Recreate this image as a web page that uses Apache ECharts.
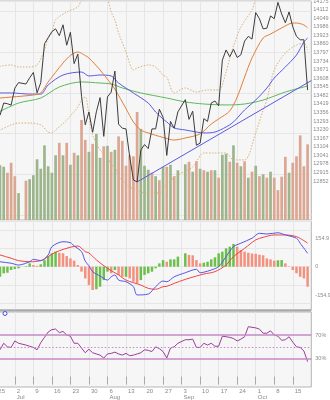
<!DOCTYPE html>
<html>
<head>
<meta charset="utf-8">
<script src="https://cdn.jsdelivr.net/npm/echarts@6/dist/echarts.min.js"></script>
<style>
  html, body { margin: 0; padding: 0; background: #ffffff; }
  #chart { width: 330px; height: 400px; }
</style>
</head>
<body>
<div id="chart"></div>
<script>
// Trading calendar (weekdays, holidays kept as empty slots; last slot is padding)
const days = [
  '6/25','6/26','6/27','6/28','6/29',
  '7/2','7/3','7/4','7/5','7/6',
  '7/9','7/10','7/11','7/12','7/13',
  '7/16','7/17','7/18','7/19','7/20',
  '7/23','7/24','7/25','7/26','7/27',
  '7/30','7/31','8/1','8/2','8/3',
  '8/6','8/7','8/8','8/9','8/10',
  '8/13','8/14','8/15','8/16','8/17',
  '8/20','8/21','8/22','8/23','8/24',
  '8/27','8/28','8/29','8/30','8/31',
  '9/3','9/4','9/5','9/6','9/7',
  '9/10','9/11','9/12','9/13','9/14',
  '9/17','9/18','9/19','9/20','9/21',
  '9/24','9/25','9/26','9/27','9/28',
  '10/1','10/2','10/3','10/4','10/5',
  '10/8','10/9','10/10','10/11','10/12',
  '10/15','10/16','10/17','10/18','10/19',
  '10/22'
];

// Daily close
const closes = [
  13350,13335,13425,13420,13410,
  13535,13575,null,13565,13610,
  13650,13500,13575,13860,13905,
  13950,13970,13920,14000,13850,
  13945,13715,13785,13475,13265,
  13360,13210,13360,13465,13180,
  13470,13505,13660,13270,13240,
  13235,13030,12860,12845,13080,
  13120,13090,13235,13235,13380,
  13320,13040,13290,13240,13360,
  null,13450,13305,13365,13115,
  13130,13310,13290,13425,13440,
  13405,13740,13815,13765,13820,
  13760,13780,13880,13915,13895,
  14090,14045,13970,13975,14065,
  14045,14165,14080,14015,14095,
  13985,13915,13890,13890,13520,
  null
];

// Daily volume and its up/down tag
const volumes = [
  110,110,107,95,115,
  88,54,null,79,82,
  90,122,103,150,108,
  95,130,155,130,155,
  111,135,130,201,161,
  137,153,173,125,148,
  149,137,141,168,159,
  109,130,128,217,183,
  109,101,95,88,80,
  107,107,111,88,100,
  null,112,117,97,118,
  103,100,97,100,100,
  85,131,133,117,150,
  115,108,118,85,97,
  109,88,92,85,97,
  85,60,87,127,95,
  115,128,170,108,152,
  null
];
const volDir = [
  'u','u','u','d','d',
  'd','u',null,'d','u',
  'u','u','u','u','u',
  'u','u','d','u','d',
  'u','d','u','d','d',
  'u','d','u','u','d',
  'u','d','u','d','d',
  'd','d','d','d','u',
  'u','u','d','u','d',
  'u','d','u','d','u',
  null,'u','d','u','d',
  'u','d','u','d','u',
  'd','u','u','d','u',
  'd','u','d','u','d',
  'u','d','u','d','u',
  'd','d','d','d','u',
  'd','d','d','d','d',
  null
];

// Overlays on the price panel: [day, value]
const maShort = [
  ['6/25',13460],['6/26',13462],['6/29',13469],['7/9',13484],['7/11',13499],['7/13',13580],
  ['7/19',13719],['7/23',13775],['7/25',13800],['7/27',13774],['7/30',13756],['8/2',13668],
  ['8/7',13565],['8/8',13528],['8/13',13384],['8/15',13286],['8/17',13227],['8/21',13205],
  ['8/27',13172],['8/30',13153],['9/4',13168],['9/10',13198],['9/13',13271],['9/17',13308],
  ['9/20',13367],['9/24',13469],['9/26',13616],['9/28',13756],['10/3',13903],['10/5',13932],
  ['10/10',13977],['10/15',14013],['10/16',14013],['10/18',13999],['10/19',13977]
];
const maMid = [
  ['6/25',13499],['6/29',13499],['7/6',13491],['7/11',13491],['7/13',13558],['7/19',13631],
  ['7/26',13653],['7/30',13624],['8/2',13631],['8/7',13624],['8/9',13572],['8/15',13499],
  ['8/21',13425],['8/23',13359],['8/27',13308],['8/28',13286],['8/30',13242],['9/4',13227],
  ['9/7',13212],['9/11',13205],['9/14',13212],['9/19',13249],['9/21',13286],['9/26',13374],
  ['10/1',13447],['10/4',13535],['10/8',13609],['10/11',13690],['10/16',13778],['10/18',13874],
  ['10/19',13903]
];
const maLong = [
  ['6/25',13350],['7/3',13425],['7/11',13462],['7/18',13543],['7/26',13580],['8/2',13572],
  ['8/7',13565],['8/10',13536],['8/17',13499],['8/28',13462],['9/4',13433],['9/11',13418],
  ['9/19',13411],['9/26',13418],['10/3',13447],['10/11',13506],['10/18',13543],['10/19',13550]
];
const bandUpper = [
  ['6/25',13690],['6/29',13705],['7/3',13690],['7/6',13690],['7/10',13705],['7/12',13815],
  ['7/13',13903],['7/16',13940],['7/17',14035],['7/20',14094],['7/25',14131],['7/26',14180],
  ['7/31',14250],['8/6',14180],['8/7',14094],['8/8',14035],['8/9',13940],['8/13',13800],
  ['8/15',13668],['8/16',13683],['8/21',13705],['8/23',13690],['8/27',13630],['8/28',13616],
  ['8/30',13499],['9/4',13536],['9/7',13506],['9/12',13521],['9/17',13521],['9/19',13653],
  ['9/20',13756],['9/21',13844],['9/25',13984],['9/28',14109],['10/1',14180],['10/3',14200],
  ['10/8',14215],['10/12',14205],['10/17',14190],['10/19',14185]
];
const bandLower = [
  ['6/25',13215],['6/26',13227],['6/29',13264],['7/3',13278],['7/6',13278],['7/11',13264],
  ['7/13',13212],['7/16',13205],['7/17',13227],['7/20',13300],['7/25',13396],['7/26',13447],
  ['7/27',13470],['7/30',13337],['7/31',13190],['8/2',13080],['8/6',13029],['8/7',12970],
  ['8/8',12955],['8/9',12882],['8/10',12860],['8/14',12808],['8/17',12771],['8/21',12764],
  ['8/24',12764],['8/27',12793],['8/28',12830],['8/31',12896],['9/6',12955],['9/11',13058],
  ['9/14',13058],['9/19',13058],['9/21',13007],['9/26',13007],['10/1',13205],['10/3',13374],
  ['10/4',13447],['10/8',13668],['10/11',13793],['10/16',13851],['10/18',13866],['10/19',13815]
];
const trendLine = [['8/16',12845],['10/22',13590]];

// MACD panel
const macdLine = [
  ['6/25',35],['6/26',27],['6/29',19],['7/3',9],['7/6',27],['7/9',40],['7/11',33],['7/13',64],
  ['7/16',109],['7/19',136],['7/23',131],['7/24',113],['7/26',82],['7/27',30],['7/30',5],
  ['7/31',-27],['8/2',-51],['8/6',-73],['8/7',-55],['8/8',-45],['8/9',-73],['8/13',-82],
  ['8/15',-109],['8/16',-154],['8/21',-149],['8/23',-109],['8/27',-78],['8/28',-82],['8/30',-55],
  ['9/4',-33],['9/7',-14],['9/10',-33],['9/11',-30],['9/13',-18],['9/17',0],['9/19',55],
  ['9/21',109],['9/25',128],['9/28',155],['10/2',182],['10/4',178],['10/9',185],['10/11',173],
  ['10/16',155],['10/17',128],['10/19',73]
];
const signalLine = [
  ['6/25',70],['6/26',64],['6/29',46],['7/3',33],['7/6',27],['7/11',33],['7/13',55],['7/16',68],
  ['7/18',87],['7/23',106],['7/25',113],['7/27',82],['7/30',75],['8/1',37],['8/6',-9],
  ['8/9',-45],['8/13',-73],['8/17',-100],['8/21',-118],['8/23',-123],['8/27',-109],['8/28',-107],
  ['8/30',-91],['9/4',-69],['9/7',-51],['9/11',-40],['9/14',-27],['9/19',9],['9/21',55],
  ['9/26',100],['10/1',146],['10/3',160],['10/8',173],['10/11',173],['10/16',164],['10/18',142],
  ['10/19',128]
];
const macdHist = [
  -60,-55,-36,-33,-18,
  -13,-9,null,3,18,
  9,5,13,36,58,
  73,82,76,73,58,
  45,33,9,-27,-64,
  -100,-127,-123,-109,-73,
  -27,-36,-18,-45,-55,
  -55,-64,-82,-91,-73,
  -45,-36,-27,-9,18,
  36,27,40,40,55,
  null,73,64,62,36,
  18,22,27,40,51,
  73,82,100,109,124,
  109,91,82,76,72,
  70,65,62,45,40,
  33,35,36,18,2,
  -18,-36,-55,-64,-109,
  null
];

// RSI panel
const rsi = [
  44,45,56,50,49,
  60,56,null,53,51,
  49,45,57,66,75,
  79,80,74,76,70,
  68,56,56,48,40,
  46,40,38,36,31,
  38,39,41,38,36,
  39,35,36,38,40,
  45,44,42,50,47,
  42,31,48,50,56,
  null,62,62,63,49,
  49,56,53,56,51,
  51,68,67,66,64,
  60,63,67,84,83,
  82,80,73,73,77,
  70,68,61,62,67,
  58,50,49,43,25,
  null
];

// Axis tick labels
const priceTicks = [12852,12915,12978,13041,13104,13167,13230,13293,13356,13419,13482,
  13545,13608,13671,13734,13797,13860,13923,13986,14049,14112,14175];
const macdTicks = [-154.9, 0, 154.9];
const rsiTicks = [30, 70];
const monthNames = { '6': 'Jun', '7': 'Jul', '8': 'Aug', '9': 'Sep', '10': 'Oct' };

const FONT = '"Liberation Sans", Arial, sans-serif';
const LABEL = '#8a8a8a';
const GRIDLINE = '#e6e6e6';
const VOL_UP = '#9db58c', VOL_DN = '#dba793';
const HIST_UP = '#6cbf4a', HIST_DN = '#f2917f';

const isMonday = (i) => i % 5 === 0 && i < days.length - 1;

function xAxis(gridIndex, labels) {
  return {
    type: 'category', gridIndex, data: days, boundaryGap: false,
    axisLine: { show: false },
    axisTick: { show: labels, interval: isMonday, length: 8, lineStyle: { color: '#aaaaaa' } },
    axisLabel: labels ? {
      interval: isMonday, align: 'left', padding: [0, 0, 0, 2], margin: 1,
      fontSize: 6, lineHeight: 6.5, color: LABEL, fontFamily: FONT,
      hideOverlap: false,
      formatter: (v) => {
        const [m, d] = v.split('/');
        return Number(d) <= 7 ? d + '\n' + monthNames[m] : d;
      }
    } : { show: false },
    splitLine: { show: true, interval: isMonday, lineStyle: { color: GRIDLINE, width: 1 } }
  };
}

const gridBase = { left: -3.7, right: 18.7, show: true, backgroundColor: '#f6f6f6',
  borderColor: '#b5b5b5', borderWidth: 1, containLabel: false, outerBoundsMode: 'none' };

const volData = volumes.map((v, i) => v == null ? '-' :
  { value: v, itemStyle: { color: volDir[i] === 'u' ? VOL_UP : VOL_DN } });

let prevH = null;
const histData = macdHist.map((v) => {
  if (v == null) return '-';
  const up = prevH == null || v >= prevH;
  prevH = v;
  return { value: v, itemStyle: { color: up ? HIST_UP : HIST_DN } };
});

const lineSeries = (name, data, color, x, y, extra) => Object.assign({
  name, type: 'line', data, xAxisIndex: x, yAxisIndex: y, symbol: 'none',
  connectNulls: true, smooth: 0.3, animation: false,
  lineStyle: { color, width: 1 }, silent: true
}, extra || {});

const plainNumber = (v) => String(v);

const option = {
  animation: false,
  textStyle: { fontFamily: FONT },
  grid: [
    Object.assign({ top: 1, height: 219 }, gridBase),
    Object.assign({ top: 221, height: 89 }, gridBase),
    Object.assign({ top: 312, height: 75 }, gridBase)
  ],
  xAxis: [xAxis(0, false), xAxis(1, false), xAxis(2, true)],
  yAxis: [
    { type: 'value', gridIndex: 0, position: 'right', min: 12565.3, max: 14175,
      axisLine: { show: false }, axisTick: { show: false },
      axisLabel: { customValues: priceTicks, fontSize: 5.5, color: LABEL, margin: 2,
        fontFamily: FONT, formatter: plainNumber },
      splitLine: { show: true, lineStyle: { color: GRIDLINE } } },
    { type: 'value', gridIndex: 0, min: 0, max: 440, show: false, splitLine: { show: false } },
    { type: 'value', gridIndex: 1, position: 'right', min: -236, max: 249,
      axisLine: { show: false }, axisTick: { show: false },
      axisLabel: { customValues: macdTicks, fontSize: 5.5, color: LABEL, margin: 4,
        fontFamily: FONT, formatter: plainNumber },
      splitLine: { show: true, lineStyle: { color: GRIDLINE } } },
    { type: 'value', gridIndex: 2, position: 'right', min: -17.8, max: 108.8,
      axisLine: { show: false }, axisTick: { show: false },
      axisLabel: { customValues: rsiTicks, fontSize: 5.5, color: LABEL, margin: 4, fontFamily: FONT,
        formatter: (v) => v + '%' },
      splitLine: { show: false } }
  ],
  series: [
    { name: 'Volume', type: 'bar', xAxisIndex: 0, yAxisIndex: 1, data: volData,
      barWidth: 2.7, silent: true, animation: false },
    lineSeries('Upper band', bandUpper, '#d8b07a', 0, 0,
      { lineStyle: { color: '#d8b07a', width: 1, type: [1.5, 1.5] } }),
    lineSeries('Lower band', bandLower, '#d8b07a', 0, 0,
      { lineStyle: { color: '#d8b07a', width: 1, type: [1.5, 1.5] } }),
    lineSeries('Long MA', maLong, '#5cb85c', 0, 0),
    lineSeries('Mid MA', maMid, '#5a5ae0', 0, 0),
    lineSeries('Short MA', maShort, '#df7f3c', 0, 0),
    lineSeries('Trend', trendLine, '#5a5ae0', 0, 0, { smooth: false }),
    lineSeries('Close', closes, '#3c3c3c', 0, 0, { smooth: false }),

    { name: 'Histogram', type: 'bar', xAxisIndex: 1, yAxisIndex: 2, data: histData,
      barWidth: 2.5, silent: true, animation: false },
    lineSeries('Signal', signalLine, '#ee4444', 1, 2),
    lineSeries('MACD', macdLine, '#5555e6', 1, 2),

    lineSeries('RSI', rsi, '#9b3d9b', 2, 3, { smooth: false,
      markLine: { silent: true, symbol: 'none', label: { show: false }, animation: false,
        data: [
          { yAxis: 70, lineStyle: { color: '#c58ac5', width: 1.5, type: 'solid' } },
          { yAxis: 30, lineStyle: { color: '#c58ac5', width: 1.5, type: 'solid' } },
          { yAxis: 50, lineStyle: { color: '#c58ac5', width: 1, type: [1.5, 2] } }
        ] } })
  ],
  graphic: [
    { type: 'rect', shape: { x: 0, y: 309.5, width: 311.3, height: 2 }, style: { fill: '#a8a8a8' }, z: 100 },
    { type: 'circle', shape: { cx: 5, cy: 313.5, r: 2 }, style: { fill: '#ffffff', stroke: '#4a4aee', lineWidth: 1 }, z: 100 }
  ]
};

const chart = echarts.init(document.getElementById('chart'), null, { renderer: 'canvas' });
chart.setOption(option);
</script>
</body>
</html>
